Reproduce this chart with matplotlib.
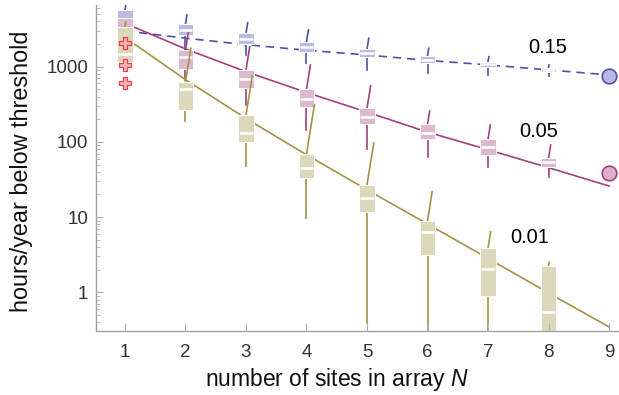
import matplotlib
matplotlib.use("Agg")
import matplotlib.pyplot as plt
import numpy as np
from matplotlib.ticker import FixedLocator, NullFormatter

plt.rcParams['font.family'] = ['Liberation Sans', 'DejaVu Sans']
plt.rcParams['mathtext.fontset'] = 'custom'
plt.rcParams['mathtext.it'] = 'Liberation Sans:italic'

# box positions (number of sites)
sites = [1, 2, 3, 4, 5, 6, 7, 8]

# threshold 0.15 (blue)
blue_hi = [7030, 4870, 3846, 3078, 2388, 1757, 1358, 1053]
blue_q3 = [5675, 3700, 2781, 2148, 1703, 1388, 1165, 970]
blue_med = [4180, 3078, 2313, 1844, 1507, 1228, 1086, 903]
blue_q1 = [3700, 2640, 1986, 1582, 1334, 1110, 1000, 843]
blue_lo = [3270, 1568, 1431, 1110, 903, 832, 776, 752]

# threshold 0.05 (magenta)
mag_hi = [4405, 2805, 1844, 1053, 553, 258, 168, 91]
mag_q3 = [4405, 1667, 903, 500, 280, 171.5, 108.3, 60.5]
mag_med = [3078, 1334, 680, 372, 216, 132.5, 84.7, 53.6]
mag_q1 = [2560, 923, 517, 294, 173, 108.3, 67, 46.8]
mag_lo = [1944, 665, 310, 144, 79.8, 62.4, 45.9, 34.4]

# threshold 0.01 (olive)
oli_hi = [3930, 1757, 751, 310, 97.5, 21.8, 6.4, 2.5]
oli_q3 = [3404, 632, 228, 69, 26.7, 8.96, 3.85, 2.27]
oli_med = [1462, 500, 133, 44.6, 17.8, 6.39, 2.02, 0.54]
oli_q1 = [1165, 266, 99, 32.8, 11.6, 3.13, 0.90, 0.1]
oli_lo = [1165, 191, 47.4, 9.64, 0.387, 0.1, 0.1, 0.1]

# outliers at N=1
out_x = [1, 1, 1]
out_y = [2046, 1053, 601]

# fitted curves
fit_n = [1, 2, 3, 4, 5, 6, 7, 8, 9]
blue_fit = [2995, 2393, 1963, 1656, 1431, 1213, 1057, 906, 776]
mag_fit = [3785, 1725, 858, 454, 249, 135, 78.7, 45.4, 25.9]
oli_fit = [2444, 673, 205, 67.3, 23.1, 8.09, 2.82, 0.98, 0.346]

# values at N=9
end_n = 9
blue_end = 760
mag_end = 38.2

fig = plt.figure(figsize=(6.19, 3.95), dpi=100)
ax = fig.add_axes([95.7 / 619, 1 - 331 / 395, (619 - 95.7) / 619, 326 / 395])
ax.set_yscale('log')
ax.set_xlim(0.516, 9.165)
ax.set_ylim(0.3055, 6614)

series = [
    (blue_hi, blue_q3, blue_med, blue_q1, blue_lo, blue_fit, '#4f51ad', '#babce3', '--'),
    (mag_hi, mag_q3, mag_med, mag_q1, mag_lo, mag_fit, '#a63f7d', '#dcb9cf', '-'),
    (oli_hi, oli_q3, oli_med, oli_q1, oli_lo, oli_fit, '#a39445', '#dcd8bb', '-'),
]

w = 0.25
for i, (hi, q3, med, q1, lo, fit, lc, fc, ls) in enumerate(series):
    z = 1 + 0.4 * i
    if ls == '--':
        ax.plot(fit_n, fit, color=lc, lw=1.2, ls=(0, (5, 3.5)), zorder=z)
    else:
        ax.plot(fit_n, fit, color=lc, lw=1.2, zorder=z)
    for n, h, a, m, b, l in zip(sites, hi, q3, med, q1, lo):
        dx = 0.2 * np.log10(h / a)
        ax.plot([n, n + dx], [a, h], color=lc, lw=1.2, zorder=z)
        ax.plot([n, n], [b, l], color=lc, lw=1.2, zorder=z)
    ax.bar(sites, np.array(q3) - np.array(q1), bottom=q1, width=w,
           color=fc, edgecolor='white', linewidth=0.7, zorder=z + 0.2)
    for n, m in zip(sites, med):
        ax.plot([n - w / 2 + 0.01, n + w / 2 - 0.01], [m, m], color='white',
                lw=1.8, solid_capstyle='butt', zorder=z + 0.25)

ax.plot(out_x, out_y, ls='none', marker='P', markersize=9,
        markerfacecolor='#f7b3b8', markeredgecolor='#e8424c', markeredgewidth=0.9, zorder=4)
ax.plot([end_n], [blue_end], ls='none', marker='o', markersize=10.5,
        markerfacecolor='#b7b9e6', markeredgecolor='#4f51ad', markeredgewidth=1.2,
        zorder=4, clip_on=False)
ax.plot([end_n], [mag_end], ls='none', marker='o', markersize=10.5,
        markerfacecolor='#dcb0c8', markeredgecolor='#a63f7d', markeredgewidth=1.2,
        zorder=4, clip_on=False)

ax.text(7.99, 1521, '0.15', ha='center', va='baseline', fontsize=14.4)
ax.text(7.83, 117.3, '0.05', ha='center', va='baseline', fontsize=14.4)
ax.text(7.69, 4.49, '0.01', ha='center', va='baseline', fontsize=14.4)

ax.set_xticks(fit_n)
ax.set_xticklabels([str(n) for n in fit_n])
ax.yaxis.set_major_locator(FixedLocator([1, 10, 100, 1000]))
ax.set_yticklabels(['1', '10', '100', '1000'])
minors = [k * 10.0 ** e for e in range(-1, 4) for k in range(2, 10)]
ax.yaxis.set_minor_locator(FixedLocator(minors))
ax.yaxis.set_minor_formatter(NullFormatter())

for s in ['top', 'right']:
    ax.spines[s].set_visible(False)
for s in ['left', 'bottom']:
    ax.spines[s].set_color('#a0a0a0')
    ax.spines[s].set_linewidth(1.0)
ax.set_axisbelow(False)
ax.tick_params(axis='x', which='both', direction='in', length=6, width=0.8,
               color='#b0b0b0', labelsize=13.5, labelcolor='#333333', pad=9.4)
ax.tick_params(axis='y', which='major', direction='in', length=5, width=0.8,
               color='#b0b0b0', labelsize=13.5, labelcolor='#333333', pad=5.3)
ax.tick_params(axis='y', which='minor', direction='in', length=3, width=0.6,
               color='#b0b0b0')

ax.set_xlabel('number of sites in array $N$', fontsize=16.5, color='#111111')
ax.set_ylabel('hours/year below threshold', fontsize=16.8, color='#111111')
ax.xaxis.set_label_coords(0.4605, -0.108)
ax.yaxis.set_label_coords(-0.12, 0.489)

plt.savefig('out.png', dpi=100)
